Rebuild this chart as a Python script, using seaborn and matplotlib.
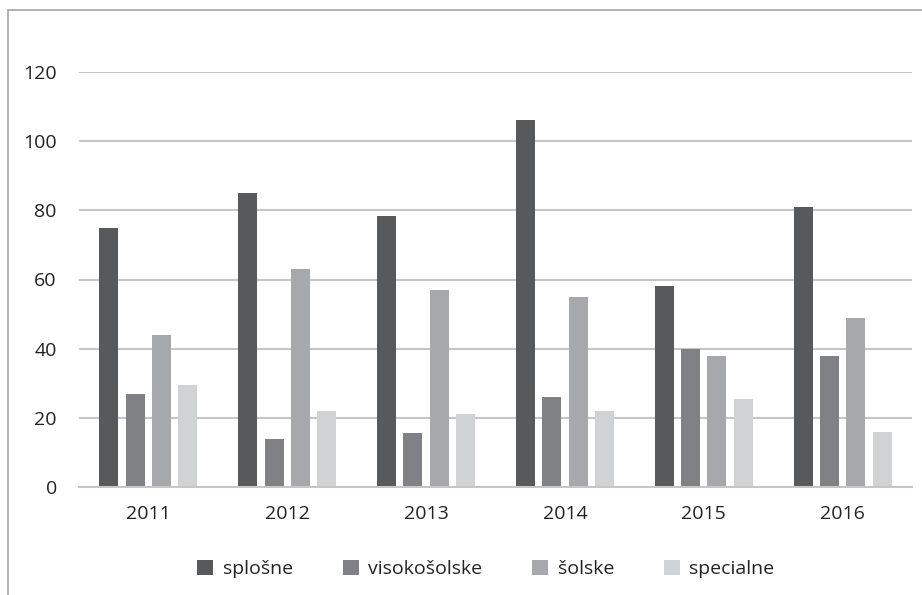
import matplotlib
matplotlib.use("Agg")
import matplotlib.pyplot as plt
from matplotlib.lines import Line2D
from matplotlib.patches import Patch
import seaborn as sns
import pandas as pd

years = ["2011", "2012", "2013", "2014", "2015", "2016"]
series = ["splošne", "visokošolske", "šolske", "specialne"]
splosne = [75, 85, 78.5, 106, 58, 81]
visokosolske = [27, 14, 15.5, 26, 40, 38]
solske = [44, 63, 57, 55, 38, 49]
specialne = [29.5, 22, 21, 22, 25.5, 16]
colors = ["#58595b", "#808184", "#a7a8ab", "#d1d2d4"]

values = [splosne, visokosolske, solske, specialne]
df = pd.DataFrame(
    [(y, s, v[i]) for s, v in zip(series, values) for i, y in enumerate(years)],
    columns=["leto", "vrsta", "vrednost"],
)

sns.set_theme(style="white")
plt.rcParams["font.family"] = ["Open Sans", "DejaVu Sans"]

W, H = 922, 595
fig = plt.figure(figsize=(W / 100, H / 100), dpi=100)
ax = fig.add_axes([79 / W, 1 - 487 / H, 833 / W, (487 - 72) / H])

sns.barplot(
    data=df, x="leto", y="vrednost", hue="vrsta", order=years, hue_order=series,
    palette=colors, width=0.76, gap=0.28, saturation=1, ax=ax, legend=False,
    edgecolor="none",
)

ax.set_ylim(0, 120)
ax.set_yticks(range(0, 121, 20))
ax.set_xlim(-0.5, 5.5)
ax.yaxis.grid(True, color="#c6c6c6", linewidth=1.5)
ax.set_axisbelow(True)
for side in ["top", "right", "left"]:
    ax.spines[side].set_visible(False)
ax.spines["bottom"].set_color("#c6c6c6")
ax.spines["bottom"].set_linewidth(1.5)
ax.tick_params(axis="both", length=0, labelsize=14, colors="#222222")
ax.tick_params(axis="y", pad=16)
ax.tick_params(axis="x", pad=13)
ax.set_xlabel("")
ax.set_ylabel("")

handles = [Patch(facecolor=c, edgecolor="none") for c in colors]
fig.legend(
    handles, series, loc="center", bbox_to_anchor=(486 / W, 1 - 569 / H), ncol=4,
    frameon=False, fontsize=14, handlelength=0.82, handleheight=0.82,
    columnspacing=2.55, handletextpad=0.5, labelcolor="#222222",
    borderpad=0, borderaxespad=0,
)

# outer frame lines (top and left)
fig.add_artist(Line2D([8 / W, 1], [1 - 10 / H, 1 - 10 / H],
                      transform=fig.transFigure, color="#a6a6a6", linewidth=1.2))
fig.add_artist(Line2D([8 / W, 8 / W], [0, 1 - 10 / H],
                      transform=fig.transFigure, color="#a6a6a6", linewidth=1.2))

fig.savefig("out.png", dpi=100, facecolor="white")
